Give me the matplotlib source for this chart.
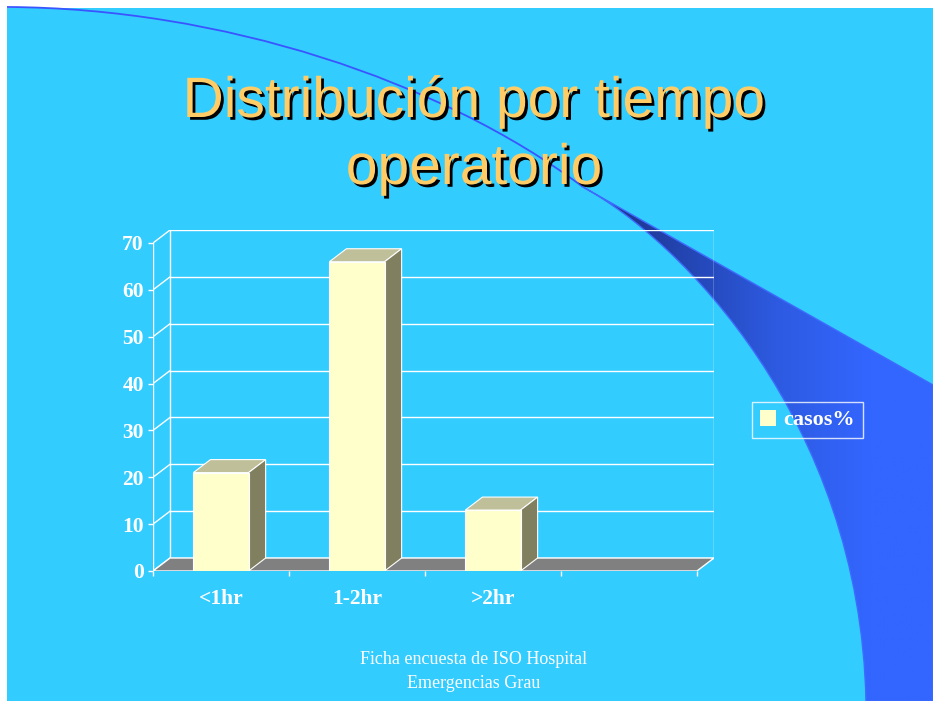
"""Slide chart: Distribución por tiempo operatorio (3D-style bars)."""

import matplotlib
matplotlib.use("Agg")
import matplotlib.pyplot as plt
import numpy as np
from matplotlib import patheffects
from matplotlib.colors import LinearSegmentedColormap
from matplotlib.patches import Patch, PathPatch, Polygon, Rectangle
from matplotlib.path import Path

W, H = 933, 701

categories = ["<1hr", "1-2hr", ">2hr"]
casos = [21, 66, 13]
yticks = [0, 10, 20, 30, 40, 50, 60, 70]
N_SLOTS = 4

BG = "#33CCFF"
FRONT = "#FFFFCC"
TOP = "#BFBF99"
SIDE = "#808060"
FLOOR = "#808080"
TITLE_C = "#FFCC66"

fig = plt.figure(figsize=(W / 100, H / 100), dpi=100, facecolor="white")

# background layer in pixel coordinates
bg = fig.add_axes([0, 0, 1, 1], zorder=0)
bg.axis("off")
bg.add_patch(Rectangle((7, 8), W - 7, H - 8, facecolor=BG, edgecolor="none",
                       zorder=0))

# decorative swoosh: thin curved line then widening wedge
thin = Path([(7, 7), (220, 8), (440, 80), (583, 187)],
            [Path.MOVETO, Path.CURVE4, Path.CURVE4, Path.CURVE4])
bg.add_patch(PathPatch(thin, facecolor="none", edgecolor="#3A55FF",
                       lw=1.3, zorder=2))

verts = [(583, 187), (933, 385), (933, H), (866, H),
         (860, 420), (680, 240), (583, 187)]
codes = [Path.MOVETO, Path.LINETO, Path.LINETO, Path.LINETO,
         Path.CURVE4, Path.CURVE4, Path.CURVE4]
wedge = PathPatch(Path(verts, codes), facecolor="none",
                  edgecolor="#3D6BFF", lw=1.0, zorder=3)
bg.add_patch(wedge)
grad = np.linspace(0, 1, 256).reshape(1, -1)
cmap = LinearSegmentedColormap.from_list(
    "sw", [(0.0, "#1B2C7E"), (0.3, "#2446B4"), (0.55, "#2D5AE0"),
           (0.82, "#3366FF"), (1.0, "#3366FF")])
im = bg.imshow(grad, extent=(583, W, H, 187), cmap=cmap,
               aspect="auto", zorder=1)
im.set_clip_path(wedge)
bg.set_xlim(0, W)
bg.set_ylim(H, 0)

# title with drop shadow
shadow = [patheffects.withSimplePatchShadow(offset=(2, -2),
                                            shadow_rgbFace="black", alpha=1)]
for txt, yb in [("Distribución por tiempo", 117), ("operatorio", 184)]:
    fig.text(474 / W, 1 - yb / H, txt, ha="center", va="baseline",
             fontsize=41, color=TITLE_C, family="Liberation Sans",
             path_effects=shadow, zorder=5)

# chart axes: front plane spans px x 153..696, y 571 (0) .. 243 (70)
ax = fig.add_axes([153 / W, (H - 571) / H, 561 / W, 341 / H], zorder=3)
ax.set_facecolor("none")
dx = 17 / 135.5
dy = 13 / 4.686
x0, x1 = -0.5, N_SLOTS - 0.5
ax.set_xlim(x0, x1 + dx)
ax.set_ylim(0, yticks[-1] + dy)
for s in ax.spines.values():
    s.set_visible(False)

lc = dict(color="white", lw=1.0)
# back and side walls
for v in yticks:
    ax.plot([x0 + dx, x1 + dx], [v + dy, v + dy], **lc, zorder=1)
    ax.plot([x0, x0 + dx], [v, v + dy], **lc, zorder=1)
ax.plot([x0 + dx, x0 + dx], [dy, yticks[-1] + dy], **lc, zorder=1)
ax.plot([x1 + dx, x1 + dx], [dy, yticks[-1] + dy], **lc, zorder=1)
ax.plot([x0, x0], [0, yticks[-1]], **lc, zorder=1)

# floor
ax.add_patch(Polygon([(x0, 0), (x1, 0), (x1 + dx, dy), (x0 + dx, dy)],
                     closed=True, facecolor=FLOOR, edgecolor="white",
                     lw=1.0, zorder=2))

# bars
bw = 55 / 135.5
for i, v in enumerate(casos):
    l, r = i - bw / 2, i + bw / 2
    ax.add_patch(Polygon([(l, v), (r, v), (r + dx, v + dy), (l + dx, v + dy)],
                         facecolor=TOP, edgecolor="white", lw=0.8, zorder=3))
    ax.add_patch(Polygon([(r, 0), (r + dx, dy), (r + dx, v + dy), (r, v)],
                         facecolor=SIDE, edgecolor="white", lw=0.8, zorder=3))
    ax.add_patch(Rectangle((l, 0), bw, v, facecolor=FRONT,
                           edgecolor="white", lw=0.8, zorder=4))

tick_font = dict(family="Liberation Serif", weight="bold", size=15.5,
                 color="white")
ax.set_yticks(yticks)
ax.set_yticklabels([str(t) for t in yticks], fontdict=tick_font)
ax.tick_params(axis="y", colors="white", length=3.6, width=1, pad=3)
ax.set_xticks(np.arange(x0, x1 + 0.01, 1.0))
ax.set_xticklabels([])
ax.tick_params(axis="x", which="major", colors="white", length=3.6, width=1)
ax.set_xticks(range(len(categories)), minor=True)
ax.set_xticklabels(categories, minor=True, fontdict=tick_font)
ax.tick_params(axis="x", which="minor", length=0, pad=13)

leg = ax.legend(handles=[Patch(facecolor=FRONT, edgecolor="none",
                               label="casos%")],
                loc="center left", bbox_to_anchor=(752 / W, 1 - 420 / H),
                bbox_transform=fig.transFigure, frameon=True, fancybox=False,
                prop=dict(family="Liberation Serif", weight="bold", size=16),
                handlelength=0.75, handleheight=0.75, handletextpad=0.3,
                borderpad=0.35, borderaxespad=0)
leg.get_frame().set_facecolor("none")
leg.get_frame().set_edgecolor("white")
leg.get_frame().set_linewidth(1.0)
for t in leg.get_texts():
    t.set_color("white")

# footer
for txt, yc in [("Ficha encuesta de ISO Hospital", 660),
                ("Emergencias Grau", 683)]:
    fig.text(474 / W, 1 - yc / H, txt, ha="center", va="center",
             fontsize=13, color="white", family="Liberation Serif")

fig.savefig("out.png", dpi=100, facecolor=fig.get_facecolor())
